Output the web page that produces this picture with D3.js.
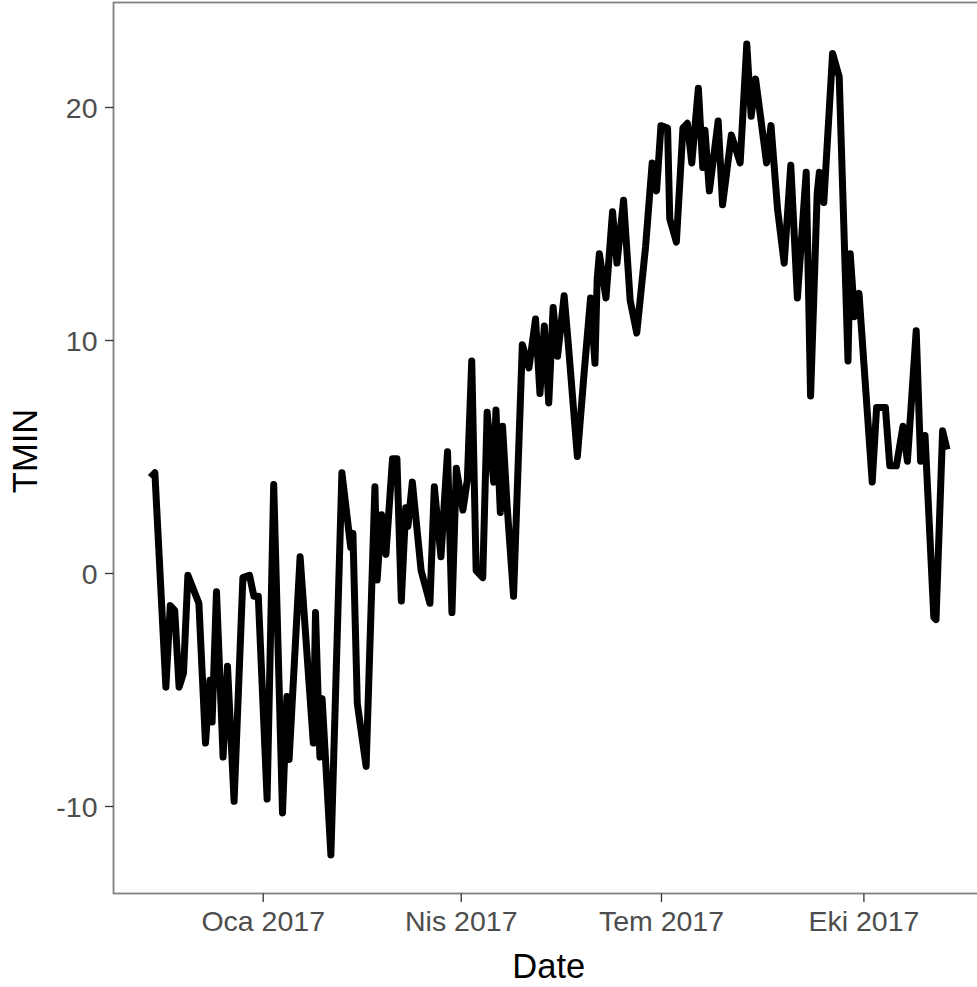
<!DOCTYPE html>
<html><head><meta charset="utf-8">
<script src="https://cdn.jsdelivr.net/npm/d3@7"></script>
<style>body{margin:0;background:#fff}svg{display:block}</style>
</head><body>
<script>
const dates = ["2016-11-11","2016-11-13","2016-11-18","2016-11-20","2016-11-22","2016-11-24","2016-11-26","2016-11-28","2016-12-03","2016-12-06","2016-12-08","2016-12-09","2016-12-11","2016-12-14","2016-12-16","2016-12-19","2016-12-23","2016-12-26","2016-12-28","2016-12-30",
"2017-01-03","2017-01-06","2017-01-10","2017-01-12","2017-01-13","2017-01-18","2017-01-24","2017-01-25","2017-01-27","2017-01-28","2017-02-01","2017-02-06","2017-02-10","2017-02-11","2017-02-13","2017-02-17","2017-02-21","2017-02-22","2017-02-24","2017-02-26",
"2017-03-01","2017-03-03","2017-03-05","2017-03-07","2017-03-08","2017-03-10","2017-03-14","2017-03-18","2017-03-20","2017-03-23","2017-03-26","2017-03-28","2017-03-30","2017-04-02","2017-04-04","2017-04-06","2017-04-08","2017-04-11","2017-04-13","2017-04-16",
"2017-04-17","2017-04-19","2017-04-20","2017-04-22","2017-04-25","2017-04-29","2017-05-02","2017-05-05","2017-05-07","2017-05-09","2017-05-11","2017-05-13","2017-05-15","2017-05-18","2017-05-20","2017-05-24","2017-05-27","2017-05-30","2017-06-01","2017-06-02",
"2017-06-03","2017-06-06","2017-06-09","2017-06-11","2017-06-14","2017-06-17","2017-06-20","2017-06-24","2017-06-27","2017-06-29","2017-07-01","2017-07-04","2017-07-05","2017-07-08","2017-07-11","2017-07-13","2017-07-15","2017-07-18","2017-07-20","2017-07-21",
"2017-07-23","2017-07-27","2017-07-29","2017-08-02","2017-08-06","2017-08-09","2017-08-11","2017-08-13","2017-08-18","2017-08-20","2017-08-23","2017-08-26","2017-08-29","2017-09-01","2017-09-05","2017-09-07","2017-09-10","2017-09-11","2017-09-13","2017-09-17",
"2017-09-20","2017-09-24","2017-09-25","2017-09-27","2017-09-29","2017-10-05","2017-10-07","2017-10-11","2017-10-13","2017-10-16","2017-10-19","2017-10-21","2017-10-25","2017-10-27","2017-10-29","2017-11-02","2017-11-03","2017-11-06","2017-11-08"];
const tmin = [4.1,4.3,-4.9,-1.4,-1.6,-4.9,-4.3,-0.1,-1.3,-7.3,-4.6,-6.4,-0.8,-7.9,-4.0,-9.8,-0.2,-0.1,-1.0,-1.0,
-9.7,3.8,-10.3,-5.3,-8.0,0.7,-7.3,-1.7,-7.9,-5.4,-12.1,4.3,1.1,1.7,-5.6,-8.3,3.7,-0.3,2.5,0.8,
4.9,4.9,-1.2,2.8,2.0,3.9,0.1,-1.3,3.7,0.7,5.2,-1.7,4.5,2.7,4.0,9.1,0.1,-0.2,6.9,3.9,
7.0,2.6,6.3,3.0,-1.0,9.8,8.8,10.9,7.7,10.6,7.3,11.4,9.3,11.9,9.7,5.0,8.5,11.8,9.0,12.6,
13.7,11.8,15.5,13.3,16.0,11.7,10.3,14.0,17.6,16.4,19.2,19.1,15.2,14.2,19.1,19.3,17.6,20.8,17.4,19.0,
16.4,19.4,15.8,18.8,17.6,22.7,19.6,21.2,17.6,19.2,15.6,13.3,17.5,11.8,17.2,7.6,16.3,17.2,15.9,22.3,
21.3,9.1,13.7,11.0,12.0,3.9,7.1,7.1,4.6,4.6,6.3,4.8,10.4,4.8,5.9,-1.9,-2.0,6.1,5.3];
const xTicks = ["2017-01-01","2017-04-01","2017-07-01","2017-10-01"];
const xTickLabels = ["Oca 2017","Nis 2017","Tem 2017","Eki 2017"];
const yTicks = [-10,0,10,20];
const yTickLabels = ["-10","0","10","20"];

const W=977,H=987;
const parse=d3.utcParse("%Y-%m-%d");
const data=dates.map((d,i)=>({date:parse(d),v:tmin[i]}));
const panel={left:113.5,right:984,top:2.5,bottom:893.5};

const x=d3.scaleUtc().domain([parse("2017-01-01"),parse("2017-10-01")]).range([262.7,863.4]);
const y=d3.scaleLinear().domain([0,20]).range([573,107]);

const svg=d3.select("body").append("svg").attr("width",W).attr("height",H)
  .style("font-family","'Liberation Sans', Arial, sans-serif");

svg.append("clipPath").attr("id","clip").append("rect")
  .attr("x",panel.left).attr("y",panel.top).attr("width",panel.right-panel.left).attr("height",panel.bottom-panel.top);

svg.append("g").attr("clip-path","url(#clip)").append("path").datum(data)
  .attr("fill","none").attr("stroke","#000").attr("stroke-width",7)
  .attr("stroke-linejoin","round").attr("stroke-linecap","butt")
  .attr("d",d3.line().x(d=>x(d.date)).y(d=>y(d.v)));

svg.append("rect").attr("x",panel.left).attr("y",panel.top)
  .attr("width",panel.right-panel.left).attr("height",panel.bottom-panel.top)
  .attr("fill","none").attr("stroke","#808080").attr("stroke-width",1.8);

const xAxis=d3.axisBottom(x).tickValues(xTicks.map(parse)).tickSize(8.5).tickPadding(7.5)
  .tickFormat((d,i)=>xTickLabels[i]);
const gx=svg.append("g").attr("transform",`translate(0,${panel.bottom})`).call(xAxis);
gx.select(".domain").remove();
gx.selectAll(".tick line").attr("stroke","#333").attr("stroke-width",1.3);
gx.selectAll(".tick text").attr("fill","#4d4d4d").style("font-size","28.5px").attr("dy","0.76em");

const yAxis=d3.axisLeft(y).tickValues(yTicks).tickSize(8.5).tickPadding(7.5)
  .tickFormat((d,i)=>yTickLabels[i]);
const gy=svg.append("g").attr("transform",`translate(${panel.left},0)`).call(yAxis);
gy.select(".domain").remove();
gy.selectAll(".tick line").attr("stroke","#333").attr("stroke-width",1.3);
gy.selectAll(".tick text").attr("fill","#4d4d4d").style("font-size","28.5px").attr("dy","0.36em");

svg.append("text").attr("x",(panel.left+panel.right)/2).attr("y",978).attr("text-anchor","middle")
  .style("font-size","34.5px").attr("fill","#000").text("Date");
svg.append("text").attr("transform",`translate(37,${(panel.top+panel.bottom)/2+3}) rotate(-90)`)
  .attr("text-anchor","middle").style("font-size","34.5px").attr("fill","#000").text("TMIN");
</script>
</body></html>
